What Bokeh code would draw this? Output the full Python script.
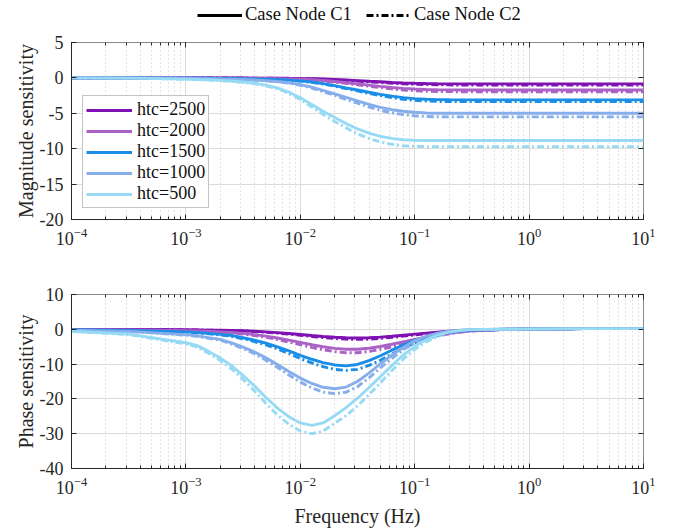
from bokeh.plotting import figure
from bokeh.models import Range1d, Legend, LegendItem, LogTicker, FixedTicker, LogAxis, LinearAxis
from bokeh.layouts import column
from bokeh.embed import file_html
from bokeh.resources import INLINE

# ---------------- data ----------------
freq = [0.0001, 0.000316, 0.001, 0.00126, 0.00158, 0.002, 0.00251, 0.00316, 0.00398, 0.00501,
        0.00631, 0.00794, 0.01, 0.0126, 0.0158, 0.02, 0.0251, 0.0316, 0.0398, 0.0501,
        0.0631, 0.0794, 0.1, 0.126, 0.158, 0.2, 0.251, 0.316, 0.562, 1.0, 3.16, 10.0]

htc_labels = ["htc=2500", "htc=2000", "htc=1500", "htc=1000", "htc=500"]
colors = ["#7E12B2", "#AA62C6", "#1A8EE6", "#86AEEA", "#97DAF4"]

mag_c1_2500 = [0, 0, -0.01, -0.01, -0.01, -0.01, -0.02, -0.02, -0.03, -0.04, -0.05, -0.06, -0.09, -0.11, -0.16, -0.22,
               -0.30, -0.38, -0.47, -0.55, -0.64, -0.71, -0.76, -0.80, -0.83, -0.84, -0.85, -0.85, -0.85, -0.85, -0.85, -0.85]
mag_c2_2500 = [0, 0, -0.01, -0.01, -0.01, -0.02, -0.02, -0.03, -0.04, -0.05, -0.06, -0.08, -0.10, -0.14, -0.19, -0.26,
               -0.35, -0.45, -0.55, -0.65, -0.75, -0.83, -0.90, -0.94, -0.97, -0.99, -1.0, -1.0, -1.0, -1.0, -1.0, -1.0]
mag_c1_2000 = [0, 0, -0.01, -0.02, -0.03, -0.03, -0.04, -0.05, -0.07, -0.09, -0.11, -0.14, -0.20, -0.26, -0.37, -0.51,
               -0.68, -0.85, -1.02, -1.19, -1.35, -1.48, -1.57, -1.63, -1.67, -1.69, -1.7, -1.7, -1.7, -1.7, -1.7, -1.7]
mag_c2_2000 = [0, 0, -0.01, -0.02, -0.03, -0.04, -0.05, -0.06, -0.08, -0.10, -0.13, -0.17, -0.22, -0.30, -0.43, -0.59,
               -0.78, -0.98, -1.17, -1.37, -1.55, -1.70, -1.80, -1.87, -1.92, -1.94, -1.95, -1.95, -1.95, -1.95, -1.95, -1.95]
mag_c1_1500 = [0, 0, -0.03, -0.04, -0.05, -0.07, -0.09, -0.11, -0.14, -0.18, -0.23, -0.31, -0.42, -0.58, -0.81, -1.09,
               -1.40, -1.71, -2.02, -2.32, -2.58, -2.78, -2.92, -3.01, -3.07, -3.09, -3.1, -3.1, -3.1, -3.1, -3.1, -3.1]
mag_c2_1500 = [0, 0, -0.03, -0.04, -0.06, -0.08, -0.09, -0.12, -0.15, -0.19, -0.25, -0.34, -0.45, -0.63, -0.87, -1.17,
               -1.51, -1.84, -2.18, -2.50, -2.79, -3.01, -3.16, -3.26, -3.32, -3.34, -3.35, -3.35, -3.35, -3.35, -3.35, -3.35]
mag_c1_1000 = [0, -0.01, -0.06, -0.09, -0.11, -0.14, -0.18, -0.23, -0.29, -0.38, -0.50, -0.68, -0.94, -1.30, -1.75, -2.25,
               -2.75, -3.25, -3.74, -4.16, -4.49, -4.71, -4.86, -4.95, -4.99, -5.0, -5.0, -5.0, -5.0, -5.0, -5.0, -5.0]
mag_c2_1000 = [0, -0.01, -0.07, -0.10, -0.12, -0.15, -0.19, -0.25, -0.32, -0.41, -0.55, -0.74, -1.03, -1.43, -1.93, -2.48,
               -3.03, -3.58, -4.11, -4.58, -4.94, -5.18, -5.35, -5.45, -5.49, -5.5, -5.5, -5.5, -5.5, -5.5, -5.5, -5.5]
mag_c1_500 = [0, -0.03, -0.18, -0.22, -0.27, -0.35, -0.44, -0.58, -0.75, -1.02, -1.40, -2.00, -2.80, -3.75, -4.70, -5.60,
              -6.45, -7.20, -7.80, -8.25, -8.55, -8.74, -8.82, -8.85, -8.85, -8.85, -8.85, -8.85, -8.85, -8.85, -8.85, -8.85]
mag_c2_500 = [0, -0.03, -0.19, -0.24, -0.29, -0.39, -0.49, -0.63, -0.82, -1.12, -1.53, -2.18, -3.05, -4.10, -5.15, -6.15,
              -7.05, -7.90, -8.55, -9.05, -9.38, -9.58, -9.67, -9.7, -9.7, -9.7, -9.7, -9.7, -9.7, -9.7, -9.7, -9.7]

ph_c1_2500 = [-0.03, -0.06, -0.15, -0.18, -0.23, -0.28, -0.35, -0.43, -0.58, -0.75, -0.95, -1.2, -1.48, -1.78, -2.05, -2.28,
              -2.44, -2.5, -2.44, -2.25, -2.0, -1.7, -1.4, -1.1, -0.83, -0.58, -0.38, -0.23, -0.06, 0.1, 0.2, 0.2]
ph_c2_2500 = [-0.03, -0.07, -0.17, -0.20, -0.26, -0.32, -0.41, -0.49, -0.67, -0.87, -1.10, -1.39, -1.71, -2.06, -2.38, -2.64,
              -2.83, -2.9, -2.83, -2.61, -2.32, -1.97, -1.62, -1.28, -0.96, -0.67, -0.44, -0.26, -0.07, 0.1, 0.2, 0.2]
ph_c1_2000 = [-0.08, -0.16, -0.38, -0.46, -0.58, -0.73, -0.90, -1.16, -1.54, -1.97, -2.49, -3.10, -3.77, -4.44, -5.02, -5.47,
              -5.73, -5.73, -5.44, -4.93, -4.29, -3.60, -2.90, -2.23, -1.62, -1.10, -0.70, -0.41, -0.09, 0.1, 0.2, 0.2]
ph_c2_2000 = [-0.09, -0.18, -0.44, -0.54, -0.68, -0.85, -1.05, -1.36, -1.80, -2.31, -2.92, -3.64, -4.42, -5.20, -5.88, -6.41,
              -6.72, -6.72, -6.38, -5.78, -5.03, -4.22, -3.40, -2.62, -1.90, -1.29, -0.82, -0.48, -0.10, 0.1, 0.2, 0.2]
ph_c1_1500 = [-0.15, -0.32, -0.74, -0.95, -1.16, -1.47, -1.79, -2.42, -3.15, -3.99, -5.04, -6.20, -7.46, -8.61, -9.56, -10.24,
              -10.5, -10.1, -9.0, -7.6, -6.0, -4.5, -3.2, -2.2, -1.45, -0.9, -0.5, -0.25, -0.05, 0.1, 0.2, 0.2]
ph_c2_1500 = [-0.17, -0.35, -0.83, -1.06, -1.30, -1.65, -2.01, -2.71, -3.54, -4.48, -5.66, -6.96, -8.38, -9.68, -10.74, -11.51,
              -11.8, -11.5, -10.4, -8.9, -7.1, -5.4, -3.9, -2.7, -1.8, -1.1, -0.6, -0.3, -0.06, 0.1, 0.2, 0.2]
ph_c1_1000 = [-0.27, -0.60, -1.54, -1.88, -2.39, -2.91, -3.93, -5.13, -6.50, -8.21, -10.09, -12.14, -14.02, -15.56, -16.67, -17.1,
              -16.6, -15.0, -12.6, -9.9, -7.4, -5.2, -3.3, -2.0, -1.1, -0.55, -0.25, -0.1, 0.0, 0.1, 0.2, 0.2]
ph_c2_1000 = [-0.30, -0.65, -1.67, -2.04, -2.59, -3.15, -4.26, -5.55, -7.03, -8.88, -10.92, -13.14, -15.17, -16.84, -18.04, -18.5,
              -18.1, -16.5, -14.0, -11.1, -8.4, -5.9, -3.8, -2.3, -1.3, -0.65, -0.3, -0.1, 0.0, 0.1, 0.2, 0.2]
ph_c1_500 = [-0.55, -1.38, -3.86, -4.69, -6.35, -8.28, -10.49, -13.25, -16.28, -19.60, -22.63, -25.12, -26.91, -27.6, -26.91, -24.84,
             -22.5, -19.8, -16.8, -13.6, -10.4, -7.4, -4.9, -3.0, -1.7, -0.8, -0.35, -0.1, 0.0, 0.1, 0.2, 0.2]
ph_c2_500 = [-0.60, -1.50, -4.20, -5.10, -6.90, -9.00, -11.40, -14.40, -17.70, -21.30, -24.60, -27.30, -29.25, -30.0, -29.25, -27.0,
             -24.8, -22.0, -18.8, -15.4, -11.9, -8.6, -5.8, -3.6, -2.1, -1.0, -0.45, -0.15, 0.0, 0.1, 0.2, 0.2]

mag_c1 = [mag_c1_2500, mag_c1_2000, mag_c1_1500, mag_c1_1000, mag_c1_500]
mag_c2 = [mag_c2_2500, mag_c2_2000, mag_c2_1500, mag_c2_1000, mag_c2_500]
ph_c1 = [ph_c1_2500, ph_c1_2000, ph_c1_1500, ph_c1_1000, ph_c1_500]
ph_c2 = [ph_c2_2500, ph_c2_2000, ph_c2_1500, ph_c2_1000, ph_c2_500]

case_labels = ["Case Node C1", "Case Node C2"]
mag_ticks = [-20, -15, -10, -5, 0, 5]
ph_ticks = [-40, -30, -20, -10, 0, 10]

# ---------------- styling ----------------
FONT = "Liberation Serif"
TXT = "#262626"
LW = 2.9
DASH = "7 3 2 3"


def style(p, yticks):
    p.xaxis.ticker = LogTicker(desired_num_ticks=6, num_minor_ticks=10)
    p.yaxis.ticker = FixedTicker(ticks=yticks)
    p.yaxis.major_label_overrides = {t: str(t) for t in yticks}
    for ax in list(p.xaxis) + list(p.yaxis):
        ax.major_tick_in = 5
        ax.major_tick_out = 0
        ax.minor_tick_in = 3
        ax.minor_tick_out = 0
        ax.axis_line_color = TXT
        ax.major_tick_line_color = TXT
        ax.minor_tick_line_color = TXT
        ax.major_label_text_font = FONT
        ax.major_label_text_font_size = "18px"
        ax.major_label_text_color = TXT
        ax.axis_label_text_font = FONT
        ax.axis_label_text_font_size = "20px"
        ax.axis_label_text_font_style = "normal"
        ax.axis_label_text_color = TXT
    p.yaxis.minor_tick_line_color = None
    p.yaxis.major_label_standoff = 8
    p.yaxis.axis_label_standoff = 0
    p.xaxis.major_label_standoff = 8
    p.xaxis.axis_label_standoff = 8
    p.xgrid.grid_line_color = "#dcdcdc"
    p.xgrid.minor_grid_line_color = "#c8c8c8"
    p.xgrid.minor_grid_line_dash = "1 3"
    p.ygrid.grid_line_color = "#dcdcdc"
    p.outline_line_color = "#8a8a8a"
    p.outline_line_width = 1
    p.background_fill_color = "white"
    p.border_fill_color = "white"
    # inward ticks on the top and right edges (labels hidden)
    top = LogAxis(ticker=LogTicker(desired_num_ticks=6, num_minor_ticks=10),
                  major_tick_in=5, major_tick_out=0, minor_tick_in=3, minor_tick_out=0,
                  axis_line_color=None, major_tick_line_color=TXT, minor_tick_line_color=TXT,
                  major_label_text_font_size="2px", major_label_text_alpha=0, major_label_standoff=0)
    right = LinearAxis(ticker=FixedTicker(ticks=yticks),
                       major_tick_in=5, major_tick_out=0, minor_tick_line_color=None,
                       axis_line_color=None, major_tick_line_color=TXT,
                       major_label_text_font_size="2px", major_label_text_alpha=0, major_label_standoff=0)
    p.add_layout(top, "above")
    p.add_layout(right, "right")


# ---------------- top legend strip ----------------
p0 = figure(width=673, height=30, x_range=Range1d(0, 1), y_range=Range1d(0, 1),
            output_backend="svg", toolbar_location=None, x_axis_location=None, y_axis_location=None,
            min_border=0, min_border_left=0, min_border_right=0, min_border_top=0, min_border_bottom=0)
p0.grid.visible = False
p0.outline_line_color = None
solid_key = p0.line([5, 6], [5, 5], line_color="black", line_width=LW)
dash_key = p0.line([5, 6], [5, 5], line_color="black", line_width=LW, line_dash=DASH)
case_legend = Legend(items=[LegendItem(label=case_labels[0], renderers=[solid_key]),
                            LegendItem(label=case_labels[1], renderers=[dash_key])],
                     orientation="horizontal", location=(126, 5), margin=0, padding=2,
                     spacing=14, glyph_width=45, glyph_height=16, label_standoff=3,
                     label_height=20, label_text_line_height=1.1,
                     label_text_font=FONT, label_text_font_size="18.5px", label_text_color="#111111",
                     border_line_color=None, background_fill_alpha=0)
p0.add_layout(case_legend, "center")

# ---------------- magnitude panel ----------------
p1 = figure(width=673, height=240, x_axis_type="log", x_range=Range1d(1e-4, 10),
            y_range=Range1d(-20, 5), output_backend="svg", toolbar_location=None,
            min_border_left=71, min_border_right=30, min_border_top=12, min_border_bottom=51)
p1.yaxis.axis_label = "Magnitude sensitivity"

c1_renderers = []
for vals, col in zip(mag_c2, colors):
    p1.line(freq, vals, line_color=col, line_width=LW, line_dash=DASH)
for vals, col in zip(mag_c1, colors):
    c1_renderers.append(p1.line(freq, vals, line_color=col, line_width=LW))

htc_legend = Legend(items=[LegendItem(label=lab, renderers=[r]) for lab, r in zip(htc_labels, c1_renderers)],
                    location="bottom_left", margin=11, padding=3, spacing=0,
                    glyph_width=46, glyph_height=16, label_standoff=5,
                    label_height=20, label_text_line_height=1.1,
                    label_text_font=FONT, label_text_font_size="18px", label_text_color="#111111",
                    border_line_color="#8a8a8a", border_line_width=1,
                    background_fill_color="white", background_fill_alpha=1)
p1.add_layout(htc_legend, "center")
style(p1, mag_ticks)

# ---------------- phase panel ----------------
p2 = figure(width=673, height=262, x_axis_type="log", x_range=Range1d(1e-4, 10),
            y_range=Range1d(-40, 10), output_backend="svg", toolbar_location=None,
            min_border_left=71, min_border_right=30, min_border_top=24, min_border_bottom=64)
p2.yaxis.axis_label = "Phase sensitivity"
p2.xaxis.axis_label = "Frequency (Hz)"
for vals, col in zip(ph_c2, colors):
    p2.line(freq, vals, line_color=col, line_width=LW, line_dash=DASH)
for vals, col in zip(ph_c1, colors):
    p2.line(freq, vals, line_color=col, line_width=LW)
style(p2, ph_ticks)

layout = column(p0, p1, p2, spacing=0)
open("out.html", "w").write(file_html(layout, INLINE))
